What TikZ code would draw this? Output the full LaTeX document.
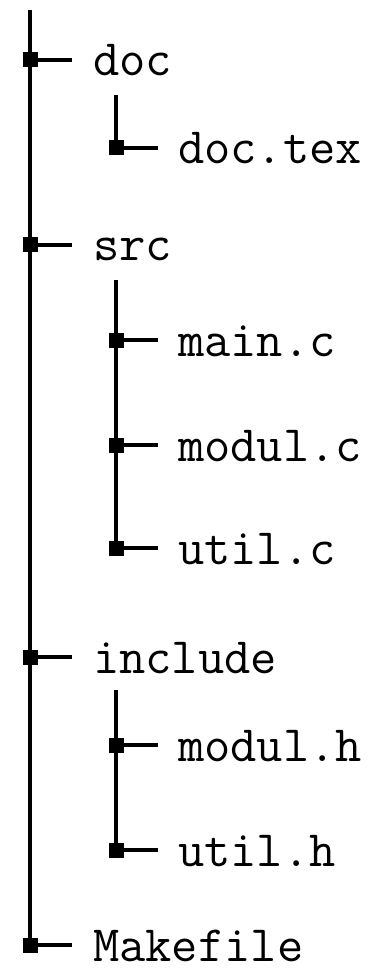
\documentclass[tikz,border=0pt]{standalone}
\usetikzlibrary{backgrounds}
\tikzset{
  sq/.style={fill=black, draw=none, minimum size=15pt, inner sep=0pt},
  lbl/.style={anchor=base west, inner sep=0pt, font=\fontsize{51}{60}\selectfont\ttfamily},
  conn/.style={line width=3.2pt},
}
\begin{document}
\begin{tikzpicture}[x=1pt,y=-1pt]
\useasboundingbox (0,0) rectangle (373,973);
% main level
\node[sq] (s-doc) at (30,60) {};
\node[sq] (s-src) at (30,245) {};
\node[sq] (s-inc) at (30,657) {};
\node[sq] (s-make) at (30,945) {};
% sub level
\node[sq] (s-doctex) at (116,148) {};
\node[sq] (s-main) at (116,340) {};
\node[sq] (s-modc) at (116,445) {};
\node[sq] (s-utilc) at (116,548) {};
\node[sq] (s-modh) at (116,745) {};
\node[sq] (s-utilh) at (116,850) {};
% labels
\node[lbl] (l-doc) at (93,76) {doc};
\node[lbl] (l-src) at (93,261) {src};
\node[lbl] (l-inc) at (93,673) {include};
\node[lbl] (l-make) at (93,961) {Makefile};
\node[lbl] (l-doctex) at (178,164) {doc.tex};
\node[lbl] (l-main) at (178,356) {main.c};
\node[lbl] (l-modc) at (178,461) {modul.c};
\node[lbl] (l-utilc) at (178,564) {util.c};
\node[lbl] (l-modh) at (178,761) {modul.h};
\node[lbl] (l-utilh) at (178,866) {util.h};
% tops of vertical lines
\coordinate (t-root) at (30,10);
\coordinate (t-doc) at (116,95);
\coordinate (t-src) at (116,280);
\coordinate (t-inc) at (116,690);
\begin{pgfonlayer}{background}
\draw[conn] (t-root) -- (s-make.center);
\draw[conn] (t-doc) -- (s-doctex.center);
\draw[conn] (t-src) -- (s-utilc.center);
\draw[conn] (t-inc) -- (s-utilh.center);
\foreach \s/\l in {doc/doc,src/src,inc/inc,make/make}{
  \draw[conn, shorten >=21pt] (s-\s.center) -- (s-\s.center -| l-\l.west);
}
\foreach \s in {doctex,main,modc,utilc,modh,utilh}{
  \draw[conn, shorten >=20pt] (s-\s.center) -- (s-\s.center -| l-\s.west);
}
\end{pgfonlayer}
\end{tikzpicture}
\end{document}
